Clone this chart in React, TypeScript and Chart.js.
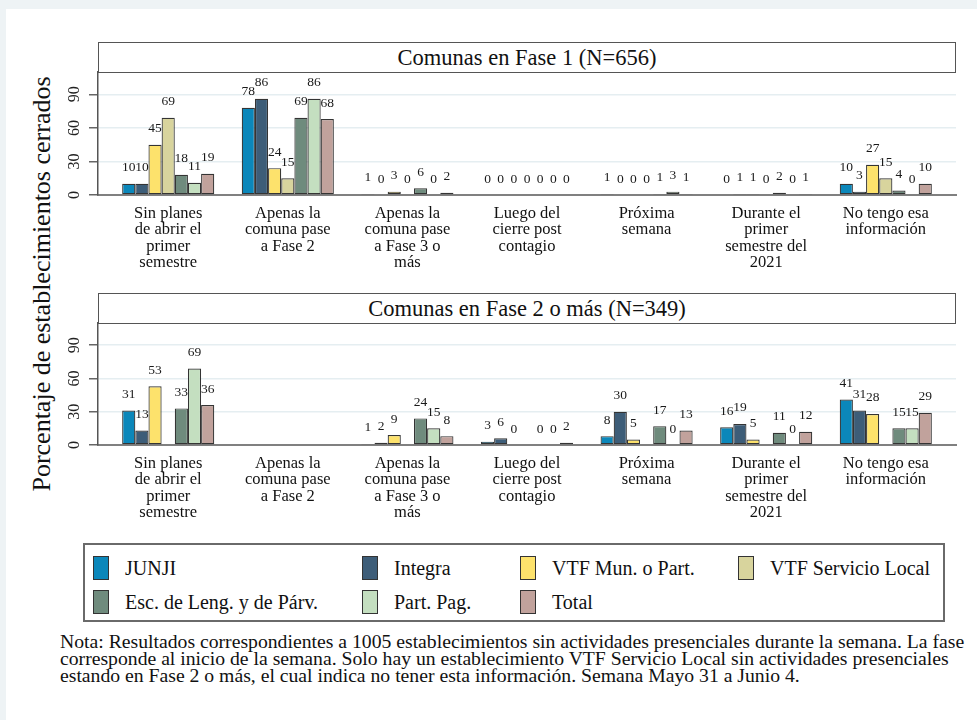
import React, { useEffect, useRef } from "react";
import { Chart, registerables } from "chart.js";
Chart.register(...registerables);

const CATEGORIES: string[][] = [
  ["Sin planes", "de abrir el", "primer", "semestre"],
  ["Apenas la", "comuna pase", "a Fase 2"],
  ["Apenas la", "comuna pase", "a Fase 3 o", "más"],
  ["Luego del", "cierre post", "contagio"],
  ["Próxima", "semana"],
  ["Durante el", "primer", "semestre del", "2021"],
  ["No tengo esa", "información"],
];

const SERIES = [
  "JUNJI",
  "Integra",
  "VTF Mun. o Part.",
  "VTF Servicio Local",
  "Esc. de Leng. y de Párv.",
  "Part. Pag.",
  "Total",
];

const COLORS = ["#0b87ba", "#3d5d78", "#fde26c", "#d8d49d", "#6f8b7d", "#c4dfc0", "#c1a29c"];

const Y_TICKS = [0, 30, 60, 90];
const Y_MAX = 110;

const TITLE_F1 = "Comunas en Fase 1 (N=656)";
const TITLE_F2 = "Comunas en Fase 2 o más (N=349)";

// Fase 1
const F1_JUNJI = [10, 78, 1, 0, 1, 0, 10];
const F1_INTEGRA = [10, 86, 0, 0, 0, 1, 3];
const F1_VTF_MUN = [45, 24, 3, 0, 0, 1, 27];
const F1_VTF_SL = [69, 15, 0, 0, 0, 0, 15];
const F1_ESC = [18, 69, 6, 0, 1, 2, 4];
const F1_PART = [11, 86, 0, 0, 3, 0, 0];
const F1_TOTAL = [19, 68, 2, 0, 1, 1, 10];

// Fase 2 o más
const F2_JUNJI = [31, null, 1, 3, 8, 16, 41];
const F2_INTEGRA = [13, null, 2, 6, 30, 19, 31];
const F2_VTF_MUN = [53, null, 9, 0, 5, 5, 28];
const F2_VTF_SL = [null, null, null, null, null, null, null];
const F2_ESC = [33, null, 24, 0, 17, 11, 15];
const F2_PART = [69, null, 15, 0, 0, 0, 15];
const F2_TOTAL = [36, null, 8, 2, 13, 12, 29];

const NOTE_LINES = [
  "Nota: Resultados correspondientes a 1005 establecimientos sin actividades presenciales durante la semana. La fase",
  "corresponde al inicio de la semana. Solo hay un establecimiento VTF Servicio Local sin actividades presenciales",
  "estando en Fase 2 o más, el cual indica no tener esta información. Semana Mayo 31 a Junio 4.",
];

const FONT = '"Liberation Serif", "Times New Roman", serif';
const X_PAD = 0.087;

Chart.defaults.font.family = FONT;

const labelPlugin = {
  id: "barLabels",
  afterDatasetsDraw(chart: any) {
    const ctx = chart.ctx;
    ctx.save();
    ctx.font = `13.5px ${FONT}`;
    ctx.fillStyle = "#1a1a1a";
    ctx.textAlign = "center";
    ctx.textBaseline = "middle";
    chart.data.datasets.forEach((ds: any, di: number) => {
      const meta = chart.getDatasetMeta(di);
      meta.data.forEach((el: any, i: number) => {
        const v = ds.data[i];
        if (v === null || v === undefined) return;
        ctx.fillText(String(v), el.x, el.y - 16);
      });
    });
    const ys = chart.scales.y;
    ctx.font = `16px ${FONT}`;
    ctx.fillStyle = "#222";
    Y_TICKS.forEach((t) => {
      const py = ys.getPixelForValue(t);
      ctx.save();
      ctx.translate(ys.right - 23, py);
      ctx.rotate(-Math.PI / 2);
      ctx.fillText(String(t), 0, 0);
      ctx.restore();
    });
    ctx.restore();
  },
};

function buildConfig(series: (number | null)[][], xAxisHeight: number): any {
  return {
    type: "bar",
    data: {
      labels: CATEGORIES,
      datasets: series.map((d, i) => ({
        label: SERIES[i],
        data: d,
        backgroundColor: COLORS[i],
        borderColor: "rgba(30,30,30,0.9)",
        borderWidth: 1.2,
        borderSkipped: false,
        categoryPercentage: 0.77,
        barPercentage: 1.0,
      })),
    },
    options: {
      responsive: false,
      animation: false,
      devicePixelRatio: 1,
      layout: { padding: { top: 12, right: 21, left: 0, bottom: 0 } },
      plugins: { legend: { display: false }, tooltip: { enabled: false }, title: { display: false } },
      scales: {
        x: {
          type: "category",
          offset: true,
          afterBuildTicks: (scale: any) => {
            scale._startValue = -0.5 - X_PAD;
            scale._valueRange = CATEGORIES.length + 2 * X_PAD;
          },
          afterFit: (scale: any) => {
            scale.height = xAxisHeight;
          },
          grid: { display: true, color: "transparent", drawTicks: false },
          border: { display: true, color: "#808080", width: 2 },
          ticks: {
            autoSkip: false,
            maxRotation: 0,
            minRotation: 0,
            padding: 10,
            color: "#111",
            font: { size: 16.5, lineHeight: 1.0, family: FONT },
          },
        },
        y: {
          type: "linear",
          min: 0,
          max: Y_MAX,
          afterBuildTicks: (scale: any) => {
            scale.ticks = Y_TICKS.map((v) => ({ value: v }));
          },
          afterFit: (scale: any) => {
            scale.width = 98;
          },
          grid: {
            color: (c: any) => (c.tick && c.tick.value === 0 ? "transparent" : "#e5eef1"),
            lineWidth: 1.5,
            tickColor: "#666",
            tickLength: 9,
            drawTicks: true,
          },
          border: { display: true, color: "#555", width: 1.5 },
          ticks: { display: false },
        },
      },
    },
    plugins: [labelPlugin],
  };
}

function Panel({ series, top, height, xAxisHeight }: any) {
  const ref = useRef<HTMLCanvasElement | null>(null);
  useEffect(() => {
    if (!ref.current) return;
    const chart = new Chart(ref.current, buildConfig(series, xAxisHeight));
    return () => chart.destroy();
  }, []);
  return (
    <canvas
      ref={ref}
      width={977}
      height={height}
      style={{ position: "absolute", left: 0, top, width: 977, height }}
    />
  );
}

function Header({ text, top, height }: any) {
  return (
    <div
      style={{
        position: "absolute",
        left: 98,
        top,
        width: 858,
        height,
        boxSizing: "border-box",
        border: "1.5px solid #555",
        background: "#fff",
        display: "flex",
        alignItems: "center",
        justifyContent: "center",
        fontFamily: FONT,
        fontSize: 22.5,
        color: "#111",
      }}
    >
      <span>{text}</span>
    </div>
  );
}

const LEGEND_POS = [
  [93, 568],
  [362, 568],
  [520, 568],
  [738, 568],
  [93, 602],
  [362, 602],
  [520, 602],
];

export default function App() {
  useEffect(() => {
    document.body.style.margin = "0";
  }, []);
  return (
    <div
      style={{
        position: "fixed",
        left: 0,
        top: 0,
        width: 977,
        height: 720,
        background: "#eef3f5",
        overflow: "hidden",
      }}
    >
      <div style={{ position: "absolute", left: 6, top: 9, width: 971, height: 711, background: "#fff" }} />
      <div
        style={{
          position: "absolute",
          left: 42,
          top: 284,
          transform: "translate(-50%, -50%) rotate(-90deg)",
          whiteSpace: "nowrap",
          fontFamily: FONT,
          fontSize: 26,
          color: "#111",
        }}
      >
        Porcentaje de establecimientos cerrados
      </div>
      <Header text={TITLE_F1} top={42} height={31} />
      <Header text={TITLE_F2} top={293} height={31} />
      <Panel
        series={[F1_JUNJI, F1_INTEGRA, F1_VTF_MUN, F1_VTF_SL, F1_ESC, F1_PART, F1_TOTAL]}
        top={60}
        height={220}
        xAxisHeight={85}
      />
      <Panel
        series={[F2_JUNJI, F2_INTEGRA, F2_VTF_MUN, F2_VTF_SL, F2_ESC, F2_PART, F2_TOTAL]}
        top={311}
        height={220}
        xAxisHeight={86}
      />
      <div
        style={{
          position: "absolute",
          left: 83,
          top: 543,
          width: 862,
          height: 79,
          boxSizing: "border-box",
          border: "2px solid #6a6a6a",
          background: "#fff",
        }}
      />
      {SERIES.map((s, i) => (
        <div key={s}>
          <div
            style={{
              position: "absolute",
              left: LEGEND_POS[i][0],
              top: LEGEND_POS[i][1] - 12,
              width: 16,
              height: 24,
              boxSizing: "border-box",
              border: "1.5px solid #333",
              background: COLORS[i],
            }}
          />
          <div
            style={{
              position: "absolute",
              left: LEGEND_POS[i][0] + 32,
              top: LEGEND_POS[i][1] - 12,
              height: 24,
              lineHeight: "24px",
              whiteSpace: "nowrap",
              fontFamily: FONT,
              fontSize: 20,
              color: "#111",
            }}
          >
            {s}
          </div>
        </div>
      ))}
      {NOTE_LINES.map((l, i) => (
        <div
          key={i}
          style={{
            position: "absolute",
            left: 60,
            top: 632 + i * 16.8,
            height: 18,
            lineHeight: "18px",
            whiteSpace: "nowrap",
            fontFamily: FONT,
            fontSize: 19.7,
            color: "#111",
          }}
        >
          {l}
        </div>
      ))}
    </div>
  );
}
